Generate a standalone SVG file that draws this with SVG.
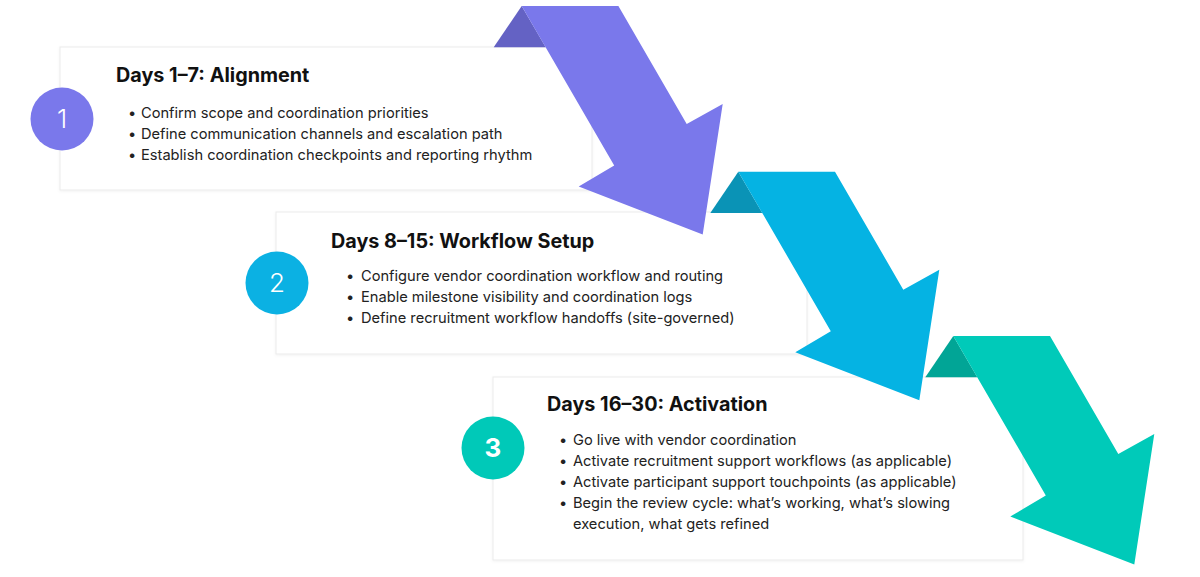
<svg xmlns="http://www.w3.org/2000/svg" width="1200" height="577" viewBox="0 0 1200 577">
<defs>
<style>
.card{fill:#ffffff;stroke:#ebebeb;stroke-width:1}
.title{font-family:Inter,"Liberation Sans",sans-serif;font-weight:700;font-size:19.8px;fill:#111111}
.item{font-family:Inter,"Liberation Sans",sans-serif;font-size:14.65px;fill:#222222}
.num{font-family:Inter,"Liberation Sans",sans-serif;font-size:26px;fill:#ffffff;text-anchor:middle}
</style>
<filter id="sh" x="-5%" y="-10%" width="110%" height="125%">
<feDropShadow dx="0" dy="1" stdDeviation="1.5" flood-color="#000" flood-opacity="0.05"/>
</filter>
<path id="arrowBody" d="M0,0 L96.7,0 L165,118 L201,98 L181,228.5 L57,180.5 L92.5,159.5 Z"/>
<path id="arrowFold" d="M-28,41.3 L0,0 L24,41.3 Z"/>
</defs>
<rect width="1200" height="577" fill="#ffffff"/>

<g id="step1">
<rect class="card" x="60" y="47" width="532" height="143" filter="url(#sh)"/>
<circle cx="62" cy="119" r="31.5" fill="#7A78EB"/>
<text class="num" x="62" y="128" font-weight="300">1</text>
<text class="title" x="116" y="82">Days 1–7: Alignment</text>
<g class="item">
<text x="128" y="118">•</text><text x="141" y="118">Confirm scope and coordination priorities</text>
<text x="128" y="139">•</text><text x="141" y="139">Define communication channels and escalation path</text>
<text x="128" y="160">•</text><text x="141" y="160">Establish coordination checkpoints and reporting rhythm</text>
</g>
</g>

<g id="step2">
<rect class="card" x="276" y="212" width="531" height="142" filter="url(#sh)"/>
<circle cx="277" cy="283" r="31.5" fill="#0BB1E3"/>
<text class="num" x="277" y="292" font-weight="300">2</text>
<text class="title" x="331" y="248">Days 8–15: Workflow Setup</text>
<g class="item">
<text x="346" y="281">•</text><text x="361" y="281">Configure vendor coordination workflow and routing</text>
<text x="346" y="302">•</text><text x="361" y="302">Enable milestone visibility and coordination logs</text>
<text x="346" y="323">•</text><text x="361" y="323">Define recruitment workflow handoffs (site-governed)</text>
</g>
</g>

<g id="step3">
<rect class="card" x="493" y="377" width="530" height="183" filter="url(#sh)"/>
<circle cx="493" cy="448" r="31.5" fill="#00C9B8"/>
<text class="num" x="493" y="457" font-weight="700">3</text>
<text class="title" x="547" y="411">Days 16–30: Activation</text>
<g class="item">
<text x="559" y="445">•</text><text x="573" y="445">Go live with vendor coordination</text>
<text x="559" y="466">•</text><text x="573" y="466">Activate recruitment support workflows (as applicable)</text>
<text x="559" y="487">•</text><text x="573" y="487">Activate participant support touchpoints (as applicable)</text>
<text x="559" y="508">•</text><text x="573" y="508">Begin the review cycle: what’s working, what’s slowing</text>
<text x="573" y="529">execution, what gets refined</text>
</g>
</g>

<g id="connectors">
<g transform="translate(521.7,6)">
<use href="#arrowFold" fill="#6462C4"/>
<use href="#arrowBody" fill="#7A78EB"/>
</g>
<g transform="translate(738.3,171.7)">
<use href="#arrowFold" fill="#0A93B6"/>
<use href="#arrowBody" fill="#05B3E3"/>
</g>
<g transform="translate(953.3,336)">
<use href="#arrowFold" fill="#01A596"/>
<use href="#arrowBody" fill="#00CAB9"/>
</g>
</g>
</svg>
